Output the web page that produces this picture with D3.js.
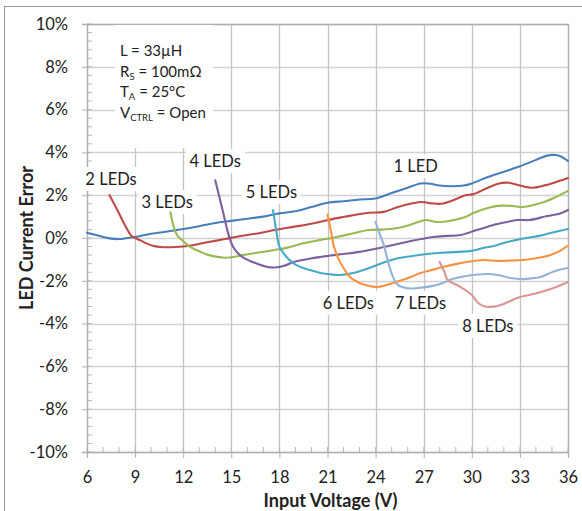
<!DOCTYPE html>
<html><head><meta charset="utf-8">
<script src="https://cdn.jsdelivr.net/npm/d3@7"></script>
<style>
html,body{margin:0;padding:0;background:#fff;}
svg text{font-family:Lato,"Open Sans",sans-serif;fill:#222;}
</style></head>
<body><svg id="c" width="582" height="511"></svg>
<script>
// ---- data (Input Voltage V, LED Current Error %) ----
const led1 = [[6,0.25],[6.5,0.15],[7,0.05],[7.5,-0.03],[8,-0.05],[8.5,0],[9,0.05],[10,0.2],[11,0.3],[12,0.42],[13,0.55],[14,0.7],[15,0.8],[16,0.9],[17,1.0],[18,1.15],[19,1.25],[20,1.45],[21,1.65],[22,1.72],[23,1.8],[24,1.85],[25,2.1],[26,2.35],[26.8,2.55],[27.3,2.55],[28,2.45],[28.7,2.42],[29.5,2.45],[30,2.55],[31,2.85],[32,3.1],[33,3.35],[34,3.65],[34.7,3.85],[35.2,3.88],[35.6,3.8],[36,3.6]];
const led2 = [[7.4,2.0],[7.9,1.3],[8.4,0.55],[8.75,0.12],[9,0],[9.3,-0.1],[9.7,-0.25],[10.2,-0.38],[10.6,-0.42],[11.5,-0.42],[12.5,-0.35],[13.5,-0.2],[14.6,-0.05],[15.5,0.08],[16.5,0.2],[17.7,0.37],[18.5,0.48],[19.5,0.6],[20.5,0.75],[21.6,0.93],[22.5,1.05],[23.6,1.18],[24.5,1.22],[25.4,1.45],[26.3,1.62],[26.9,1.68],[27.5,1.62],[28.1,1.6],[28.8,1.75],[29.6,2.0],[30.1,2.05],[31,2.35],[31.7,2.55],[32.3,2.58],[33,2.45],[33.8,2.35],[34.5,2.45],[35.2,2.6],[36,2.8]];
const led3 = [[11.2,1.2],[11.4,0.55],[11.6,0.15],[12,-0.15],[12.4,-0.4],[13,-0.62],[13.6,-0.8],[14.6,-0.92],[15.2,-0.88],[15.7,-0.8],[16.5,-0.7],[17.7,-0.56],[18.5,-0.45],[19.5,-0.25],[20.5,-0.1],[21.6,0.05],[22.5,0.2],[23.6,0.37],[24.5,0.4],[25.4,0.47],[26.3,0.65],[27.1,0.84],[27.8,0.75],[28.5,0.78],[29.6,0.98],[30.1,1.17],[31,1.4],[31.6,1.5],[32.5,1.5],[33.2,1.45],[34.3,1.63],[35.2,1.9],[36,2.2]];
const led4 = [[14.0,2.7],[14.5,1.17],[14.8,0.23],[15.1,-0.4],[15.4,-0.7],[15.7,-0.89],[16.5,-1.17],[17.3,-1.36],[17.7,-1.38],[18.3,-1.3],[18.9,-1.12],[20,-0.95],[21,-0.84],[22,-0.75],[23,-0.65],[24,-0.5],[25.1,-0.33],[26.2,-0.14],[27.6,0.05],[28.5,0.1],[29.3,0.14],[30.3,0.37],[31.3,0.6],[32.2,0.75],[32.8,0.84],[33.6,0.84],[34.7,1.03],[35.4,1.12],[36,1.31]];
const led5 = [[17.6,1.3],[17.8,0.37],[18.0,-0.4],[18.3,-0.75],[18.6,-1.0],[18.9,-1.2],[19.3,-1.35],[19.9,-1.5],[20.5,-1.62],[21,-1.68],[21.8,-1.73],[22.6,-1.64],[23.6,-1.4],[24.3,-1.2],[25.1,-1.0],[26.2,-0.85],[27.2,-0.75],[28,-0.7],[29.1,-0.65],[30,-0.6],[30.7,-0.47],[31.5,-0.35],[32.2,-0.19],[33.4,0],[34.2,0.1],[34.9,0.23],[36,0.42]];
const led6 = [[21.0,1.1],[21.2,0.37],[21.4,-0.4],[21.7,-1.0],[22,-1.4],[22.4,-1.82],[23,-2.1],[23.5,-2.22],[24.1,-2.29],[24.6,-2.22],[25.1,-2.1],[26.2,-1.82],[26.8,-1.64],[27.5,-1.5],[28.2,-1.36],[29,-1.22],[29.7,-1.12],[30.7,-1.03],[31.6,-1.07],[32.5,-1.05],[33.2,-1.03],[34,-0.95],[34.9,-0.79],[35.5,-0.6],[36,-0.35]];
const led7 = [[24.0,0.75],[24.2,0.3],[24.5,-0.3],[24.8,-1.17],[25.1,-1.85],[25.4,-2.2],[25.7,-2.3],[26.2,-2.36],[26.8,-2.32],[27.5,-2.25],[28.2,-2.1],[28.8,-1.92],[29.5,-1.8],[30.1,-1.73],[31.1,-1.68],[31.8,-1.75],[32.4,-1.87],[33.2,-1.92],[33.8,-1.88],[34.3,-1.82],[35.2,-1.54],[36,-1.4]];
const led8 = [[28.0,-1.12],[28.3,-1.6],[28.5,-1.96],[29.3,-2.29],[30,-2.66],[30.4,-3.04],[30.8,-3.2],[31.1,-3.22],[31.6,-3.18],[32,-3.08],[33,-2.76],[34.1,-2.57],[35.1,-2.34],[36,-2.06]];
const seriesNames = ["1 LED","2 LEDs","3 LEDs","4 LEDs","5 LEDs","6 LEDs","7 LEDs","8 LEDs"];
const seriesColors = ["#4a7ebb","#be4b48","#98b954","#7d60a0","#46aac5","#f69240","#95b3d7","#d99694"];
// label anchor points in data units (V, %)
const labelV = [26.5, 7.5, 11.0, 14.0, 17.5, 22.3, 26.8, 31.0];
const labelE = [3.36, 2.76, 1.68, 3.6, 2.15, -3.04, -3.04, -4.11];
const xTicks = [6,9,12,15,18,21,24,27,30,33,36];
const yTicks = [-10,-8,-6,-4,-2,0,2,4,6,8,10];
const noteLines = [["L = 33µH"],["R","S"," = 100mΩ"],["T","A"," = 25°C"],["V","CTRL"," = Open"]];

const svg = d3.select("#c");
const L=87, R=568, T=24, B=452;
const x = d3.scaleLinear().domain([6,36]).range([L,R]);
const y = d3.scaleLinear().domain([-10,10]).range([B,T]);

// outer chart frame
svg.append("rect").attr("x",4.5).attr("y",6.5).attr("width",620).attr("height",560)
  .attr("fill","#fff").attr("stroke","#9a9a9a").attr("stroke-width",1);

// gridlines
const g = svg.append("g");
g.selectAll(".hg").data(yTicks).join("line")
  .attr("x1",L).attr("x2",R).attr("y1",d=>Math.round(y(d))+0.5).attr("y2",d=>Math.round(y(d))+0.5)
  .attr("stroke","#d2d2d2").attr("stroke-width",1.3);
g.selectAll(".vg").data(xTicks).join("line")
  .attr("y1",T).attr("y2",B).attr("x1",d=>Math.round(x(d))+0.5).attr("x2",d=>Math.round(x(d))+0.5)
  .attr("stroke","#c4c4c4").attr("stroke-width",1.3);

// minor ticks
const minorY = d3.range(-10,10.001,0.4);
svg.append("g").selectAll("line").data(minorY).join("line")
  .attr("x1",L).attr("x2",L+5).attr("y1",d=>y(d)).attr("y2",d=>y(d)).attr("stroke","#b8b8b8");
const minorX = d3.range(6,36.001,1);
svg.append("g").selectAll("line").data(minorX).join("line")
  .attr("y1",B).attr("y2",B-5).attr("x1",d=>x(d)).attr("x2",d=>x(d)).attr("stroke","#b8b8b8");

const yAxis = svg.append("g").attr("transform",`translate(${L},0)`)
  .call(d3.axisLeft(y).tickValues(yTicks).tickSize(5).tickPadding(14).tickFormat(d=>d+"%"));
const xAxis = svg.append("g").attr("transform",`translate(0,${B})`)
  .call(d3.axisBottom(x).tickValues(xTicks).tickSize(6).tickPadding(13).tickFormat(d3.format("d")));
[yAxis,xAxis].forEach(a=>{
  a.select(".domain").attr("stroke","#b0b0b0").attr("stroke-width",1.3);
  a.selectAll(".tick line").attr("stroke","#b0b0b0");
  a.selectAll("text").attr("font-size",16.5).attr("fill","#1a1a1a").attr("font-family","Lato");
});
// plot border top/right
svg.append("path").attr("d",`M${L},${T+0.5}H${R+0.5}V${B}`).attr("fill","none").attr("stroke","#b0b0b0").attr("stroke-width",1.3);

// annotation box (white) with note
svg.append("rect").attr("x",115).attr("y",25).attr("width",98).attr("height",123).attr("fill","#fff");
noteLines.forEach((ln,i)=>{
  const t = svg.append("text").attr("x",120).attr("y",56+i*20.7).attr("font-size",15);
  t.append("tspan").text(ln[0]);
  if(ln.length>2){
    t.append("tspan").attr("font-size",9.5).attr("dy",3).text(ln[1]);
    t.append("tspan").attr("dy",-3).text(ln[2]);
  }
});

// series labels with white boxes (drawn before lines)
const lab = svg.append("g");
seriesNames.forEach((n,i)=>{
  const t = lab.append("text").attr("x",x(labelV[i])).attr("y",y(labelE[i]))
    .attr("text-anchor","middle").attr("dominant-baseline","central").attr("font-size",16.5).text(n);
  const bb = t.node().getBBox();
  lab.insert("rect","text").attr("x",bb.x-4).attr("y",bb.y-2).attr("width",bb.width+8).attr("height",bb.height+4).attr("fill","#fff");
});

// series lines
const data = [led1,led2,led3,led4,led5,led6,led7,led8];
const line = d3.line().x(d=>x(d[0])).y(d=>y(d[1])).curve(d3.curveCatmullRom.alpha(0.5));
svg.append("g").selectAll("path").data(data).join("path")
  .attr("d",line).attr("fill","none").attr("stroke",(d,i)=>seriesColors[i]).attr("stroke-width",2.1)
  .attr("stroke-linejoin","round").attr("stroke-linecap","round");

// axis titles
svg.append("text").attr("x",(L+R)/2+3).attr("y",507).attr("text-anchor","middle")
  .attr("font-size",18).attr("font-weight","bold").text("Input Voltage (V)");
svg.append("text").attr("transform",`translate(33,${(T+B)/2}) rotate(-90)`).attr("text-anchor","middle")
  .attr("font-size",18).attr("font-weight","bold").text("LED Current Error");
</script></body></html>
